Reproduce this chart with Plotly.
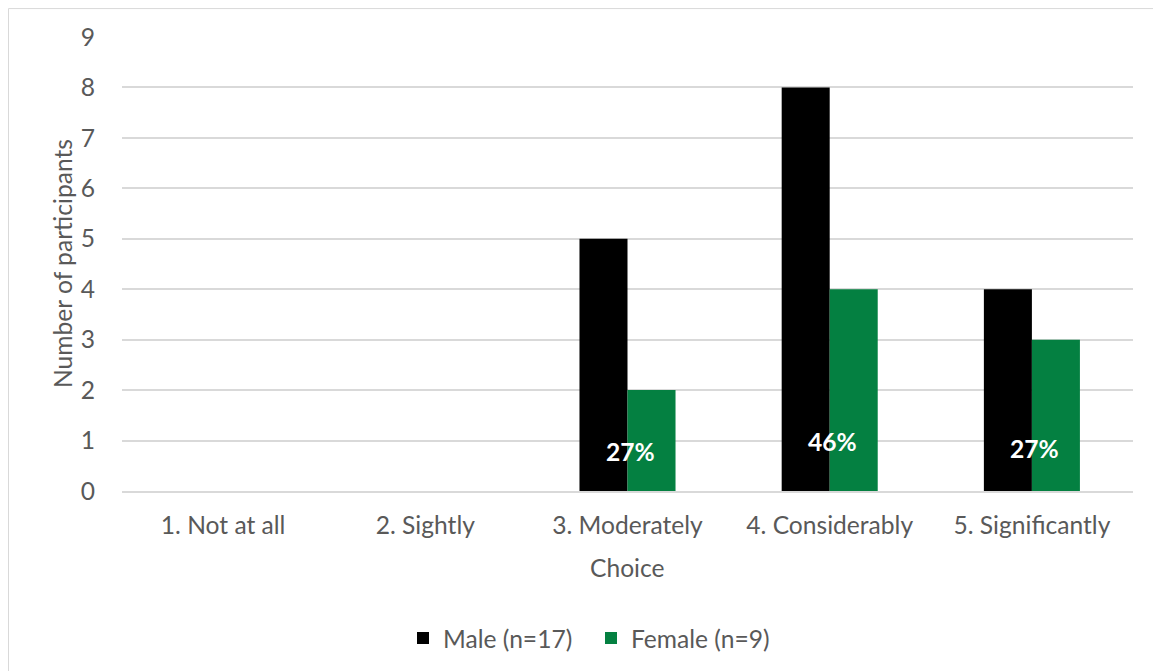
import plotly.graph_objects as go

# Survey responses by gender
choices = ["1. Not at all", "2. Sightly", "3. Moderately", "4. Considerably", "5. Significantly"]
male_counts = [0, 0, 5, 8, 4]
female_counts = [0, 0, 2, 4, 3]
male_n = 17
female_n = 9

MALE_COLOR = "#000000"
FEMALE_COLOR = "#048041"
TEXT_COLOR = "#595959"
GRID_COLOR = "#D9D9D9"
FONT = "Lato, Calibri, Carlito, sans-serif"
FS = 24.6

# Plot-area geometry in pixels
W, H = 1153, 671
L, R, T, B = 122, 20, 37, 179
pw, ph = W - L - R, H - T - B

fig = go.Figure()
fig.add_trace(go.Bar(name=f"Male (n={male_n})", x=choices, y=male_counts,
                     marker=dict(color=MALE_COLOR, line=dict(width=0))))
fig.add_trace(go.Bar(name=f"Female (n={female_n})", x=choices, y=female_counts,
                     marker=dict(color=FEMALE_COLOR, line=dict(width=0))))

# Share of all participants per choice, printed in white inside the bar pair
total = male_n + female_n
label_heights = {2: 0.78, 3: 0.98, 4: 0.84}
annotations = []
for i, (c, m, f) in enumerate(zip(choices, male_counts, female_counts)):
    if m + f == 0:
        continue
    pct = round(100 * (m + f) / total)
    annotations.append(dict(x=c, y=label_heights.get(i, 0.85), xref="x", yref="y",
                            text=f"<b>{pct}%</b>", showarrow=False,
                            font=dict(family=FONT, size=FS, color="white"),
                            xanchor="center", yanchor="middle", xshift=3))

# Axis titles
annotations.append(dict(x=0, y=0.5, xref="paper", yref="paper", text="Number of participants",
                        textangle=-90, showarrow=False, xanchor="center", yanchor="middle",
                        xshift=-60, font=dict(family=FONT, size=FS, color=TEXT_COLOR)))
annotations.append(dict(x=0.5, y=0, xref="paper", yref="paper", text="Choice",
                        showarrow=False, xanchor="center", yanchor="middle",
                        yshift=-76, font=dict(family=FONT, size=FS, color=TEXT_COLOR)))

# Thin frame around the chart
shapes = [dict(type="rect", xref="paper", yref="paper",
               x0=(8.5 - L) / pw, x1=(W + 10 - L) / pw,
               y0=(T + ph - (H + 10)) / ph, y1=(T + ph - 8.5) / ph,
               line=dict(color=GRID_COLOR, width=1), fillcolor="rgba(0,0,0,0)", layer="below")]

fig.update_layout(
    width=W, height=H,
    margin=dict(l=L, r=R, t=T, b=B, pad=0),
    paper_bgcolor="white", plot_bgcolor="white",
    barmode="group", bargap=0.525, bargroupgap=0,
    font=dict(family=FONT, size=FS, color=TEXT_COLOR),
    showlegend=True,
    legend=dict(orientation="h", x=(403 - L) / pw, xanchor="left",
                y=(492 - 638) / ph, yanchor="middle",
                font=dict(family=FONT, size=FS, color=TEXT_COLOR), itemwidth=30,
                entrywidth=143, entrywidthmode="pixels", traceorder="normal"),
    annotations=annotations,
    shapes=shapes,
)
fig.update_xaxes(showgrid=False, showline=True, linecolor=GRID_COLOR, linewidth=1.5,
                 ticks="", tickfont=dict(family=FONT, size=FS, color=TEXT_COLOR),
                 ticklabelstandoff=12, fixedrange=True)
fig.update_yaxes(range=[0, 9], dtick=1, showgrid=True, gridcolor=GRID_COLOR, gridwidth=1.5,
                 zeroline=False, showline=False, ticks="",
                 tickfont=dict(family=FONT, size=FS, color=TEXT_COLOR),
                 ticklabelstandoff=26, fixedrange=True)

fig.write_html("out.html")
